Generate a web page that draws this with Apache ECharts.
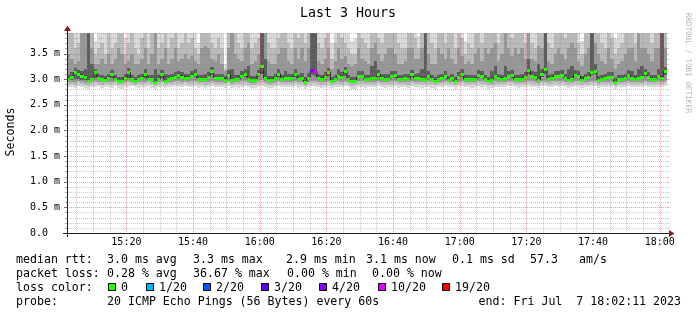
<!DOCTYPE html>
<html><head><meta charset="utf-8">
<script src="https://cdn.jsdelivr.net/npm/echarts@6/dist/echarts.min.js"></script>
<style>html,body{margin:0;padding:0;background:#fff}#c{width:697px;height:315px}</style>
</head><body><div id="c"></div>
<script>
// ---- time axis: minutes after 15:00; window 15:02:11 .. 18:02:11, 60 s steps ----
const xMin = 2 + 11/60;
const xMax = 182 + 11/60;
const xMajorTicks = [20, 40, 60, 80, 100, 120, 140, 160, 180];   // 15:20 .. 18:00
const xMinorStep = 5;
const yMax = 3.9, yMajorStep = 0.5, yMinorStep = 0.1;

// median rtt per 60 s step (ms)
const median = [
3.01,3.05,3.13,3.10,3.07,3.05,2.97,3.00,3.13,3.02,3.00,2.99,3.03,3.10,3.01,2.96,2.96,3.03,3.13,3.01,2.97,3.00,3.02,3.10,3.00,3.00,2.95,3.00,3.10,2.97,3.00,3.02,3.05,3.08,3.05,3.03,
3.03,3.07,3.11,3.00,3.00,3.00,3.05,3.16,3.03,3.02,3.02,2.99,3.09,2.99,3.00,3.00,3.07,3.11,3.00,2.99,2.99,3.10,3.26,3.02,2.99,2.99,3.03,3.11,3.00,3.03,3.02,3.03,3.11,3.00,3.03,2.95,
3.03,3.18,3.15,3.02,3.00,3.05,3.14,2.97,3.00,3.07,3.05,3.15,3.01,2.97,2.97,3.07,3.07,3.00,3.00,3.02,3.02,3.10,3.02,3.00,3.01,3.07,3.08,3.00,3.01,3.02,3.00,3.10,3.02,3.02,3.00,3.00,
3.07,3.00,2.97,3.00,3.02,3.07,2.99,3.02,2.97,3.05,3.11,3.00,3.00,3.00,3.00,3.09,3.07,3.00,2.97,2.98,3.07,3.03,3.01,3.03,3.07,3.09,3.00,3.00,3.00,3.05,3.18,3.07,3.05,2.98,3.11,3.20,
3.01,3.03,3.07,3.07,3.09,3.02,2.99,3.00,3.09,3.07,2.99,3.03,3.05,3.14,3.16,2.98,3.00,3.03,3.05,3.05,2.95,3.00,3.00,3.03,3.09,3.03,3.00,3.02,3.05,3.12,3.05,3.00,3.00,3.06,3.03,3.15
];

// smoke: upper edges of the four shaded bands (ms; 4.5 = beyond the top of the plot)
const smokeUp1 = [
4.5,4.5,4.5,4.5,4.5,4.5,4.5,4.5,3.75,4.5,4.5,4.5,4.5,4.5,4.5,4.5,4.5,3.8,4.5,4.5,4.5,4.5,4.5,4.5,4.5,4.5,4.5,4.5,4.5,4.5,4.5,4.5,4.5,4.5,4.5,4.5,
4.5,4.5,4.5,3.7,4.5,4.5,4.5,4.5,4.5,4.5,4.5,3.3,4.5,4.5,4.5,4.5,4.5,4.5,4.5,4.5,4.5,4.5,4.5,4.5,4.5,4.5,4.5,4.5,4.5,4.5,4.5,4.5,4.5,4.5,4.5,4.5,
4.5,4.5,4.5,4.5,4.5,4.5,4.5,3.7,4.5,4.5,4.5,4.5,4.5,3.75,3.8,4.5,4.5,4.5,4.5,4.5,4.5,4.5,4.5,4.5,4.5,4.5,4.5,4.5,4.5,4.5,4.5,4.5,4.5,3.85,4.5,4.5,
4.5,4.5,4.5,4.5,4.5,4.5,4.5,4.5,4.5,4.5,4.5,3.75,4.5,4.5,4.5,4.5,4.5,4.5,4.5,4.5,4.5,4.5,4.5,4.5,4.5,4.5,4.5,4.5,4.5,4.5,4.5,4.5,4.5,4.5,4.5,4.5,
4.5,4.5,4.5,4.5,4.5,4.5,4.5,4.5,4.5,4.5,3.75,4.5,4.5,4.5,4.5,4.5,4.5,4.5,4.5,4.5,3.8,4.5,4.5,4.5,4.5,4.5,4.5,4.5,4.5,4.5,4.5,4.5,4.5,4.5,4.5,4.5
];
const smokeUp2 = [
4.5,4.5,3.6,3.7,4.5,4.5,4.5,4.5,3.5,3.6,3.7,3.5,4.5,3.6,3.7,4.5,4.5,3.5,3.7,4.5,3.6,3.5,3.8,4.5,3.6,4.5,4.5,3.6,3.7,4.5,3.6,3.8,4.5,3.6,3.7,3.9,
3.7,3.8,3.6,3.5,4.5,4.5,4.5,3.7,3.6,3.8,3.6,3.2,4.5,4.5,4.5,3.7,3.6,4.5,4.5,3.6,3.7,3.8,4.5,4.5,3.7,3.6,3.6,3.8,4.5,4.5,3.7,3.6,4.5,3.8,4.5,3.7,
4.5,4.5,4.5,3.7,3.6,3.8,4.5,3.4,3.7,4.5,3.8,3.7,3.6,3.5,3.5,4.5,3.8,3.7,3.6,4.5,4.5,3.8,3.7,4.5,4.5,4.5,4.5,3.7,3.6,3.6,4.5,4.5,3.8,3.6,4.5,4.5,
4.5,3.7,3.6,4.5,4.5,3.7,4.5,4.5,3.6,4.5,3.8,3.5,3.7,3.6,4.5,4.5,3.7,4.5,4.5,4.5,4.5,3.7,4.5,4.5,4.5,3.8,4.5,4.5,4.5,3.7,4.5,3.7,3.6,4.5,4.5,4.5,
3.7,3.6,4.5,4.5,4.5,3.8,4.5,4.5,4.5,3.7,3.5,4.5,4.5,4.5,4.5,4.5,3.7,3.6,4.5,3.8,3.5,3.6,3.7,4.5,4.5,4.5,3.7,4.5,4.5,4.5,4.5,3.7,4.5,4.5,4.5,4.5
];
const smokeUp3 = [
3.5,3.4,3.3,3.35,4.5,4.5,4.5,3.6,3.3,3.3,3.4,3.3,3.5,3.3,3.4,3.6,3.5,3.3,3.35,3.5,3.3,3.3,3.4,3.6,3.3,3.5,4.5,3.3,3.4,3.6,3.3,3.4,3.6,3.35,3.4,3.5,
3.4,3.45,3.35,3.3,3.6,3.65,3.6,3.4,3.35,3.5,3.3,3.15,3.6,4.5,3.5,3.4,3.35,3.6,3.7,3.3,3.35,3.5,4.5,4.5,3.35,3.3,3.3,3.5,3.6,3.6,3.35,3.3,3.6,3.4,3.6,3.35,
3.6,4.5,4.5,3.35,3.3,3.4,3.6,3.2,3.35,3.6,3.4,3.45,3.3,3.25,3.3,3.6,3.4,3.35,3.3,3.6,3.7,3.5,3.35,3.5,3.6,3.6,3.5,3.3,3.3,3.35,3.6,3.6,3.4,3.4,3.6,4.5,
3.5,3.3,3.3,3.6,3.5,3.4,3.6,3.4,3.3,3.6,3.45,3.3,3.35,3.3,3.5,3.6,3.35,3.6,3.5,3.6,3.7,3.35,3.5,4.5,3.6,3.45,3.6,3.5,3.6,3.4,4.5,3.4,3.35,3.65,3.6,4.5,
3.35,3.3,3.5,3.6,3.5,3.4,3.6,3.7,3.6,3.35,3.25,3.5,3.6,4.5,3.7,3.5,3.35,3.3,3.6,3.4,3.2,3.3,3.35,3.5,3.6,3.6,3.35,4.5,3.6,3.6,3.5,3.35,3.6,3.6,4.5,3.6
];
const smokeUp4 = [
3.09,3.13,3.21,3.18,3.16,3.2,4.5,3.3,3.2,3.1,3.08,3.07,3.11,3.18,3.09,3.05,3.04,3.11,3.21,3.09,3.05,3.08,3.1,3.2,3.08,3.09,3.2,3.08,3.18,3.1,3.08,3.1,3.14,3.16,3.13,3.11,
3.11,3.15,3.19,3.08,3.09,3.1,3.13,3.24,3.11,3.1,3.1,3.06,3.17,3.2,3.08,3.08,3.15,3.2,3.25,3.07,3.07,3.18,4.5,3.4,3.07,3.07,3.11,3.19,3.09,3.15,3.1,3.11,3.19,3.08,3.12,3.04,
3.12,4.5,4.5,3.1,3.08,3.13,3.22,3.04,3.08,3.2,3.13,3.23,3.09,3.05,3.05,3.15,3.15,3.08,3.08,3.25,3.35,3.18,3.1,3.1,3.1,3.15,3.16,3.08,3.09,3.1,3.1,3.18,3.1,3.12,3.2,4.5,
3.15,3.08,3.05,3.08,3.1,3.15,3.07,3.1,3.05,3.13,3.19,3.08,3.08,3.08,3.08,3.17,3.15,3.08,3.05,3.15,3.25,3.11,3.09,3.25,3.15,3.17,3.08,3.08,3.1,3.13,3.4,3.15,3.13,3.3,3.19,4.5,
3.09,3.11,3.15,3.15,3.17,3.1,3.2,3.25,3.17,3.15,3.07,3.11,3.13,4.5,3.3,3.06,3.08,3.11,3.13,3.13,3.03,3.08,3.08,3.11,3.17,3.15,3.08,3.2,3.25,3.2,3.13,3.08,3.08,3.2,4.5,3.23
];
// smoke: lower edges of the four bands (ms)
const smokeLo1 = [
2.84,2.85,2.83,2.86,2.84,2.82,2.80,2.84,2.85,2.86,2.83,2.84,2.85,2.83,2.86,2.82,2.81,2.84,2.85,2.86,2.84,2.83,2.85,2.84,2.86,2.83,2.80,2.84,2.85,2.82,2.84,2.85,2.86,2.84,2.85,2.86,
2.84,2.85,2.86,2.83,2.84,2.82,2.85,2.86,2.84,2.85,2.84,2.83,2.86,2.82,2.84,2.83,2.85,2.86,2.84,2.82,2.83,2.85,2.86,2.84,2.82,2.83,2.85,2.86,2.84,2.85,2.84,2.85,2.86,2.83,2.85,2.80,
2.84,2.86,2.85,2.84,2.83,2.85,2.86,2.82,2.84,2.85,2.84,2.86,2.84,2.80,2.81,2.85,2.84,2.83,2.84,2.84,2.85,2.86,2.84,2.83,2.84,2.85,2.86,2.83,2.84,2.84,2.83,2.86,2.84,2.85,2.83,2.84,
2.84,2.83,2.81,2.84,2.85,2.86,2.84,2.85,2.81,2.85,2.86,2.84,2.84,2.83,2.84,2.86,2.85,2.84,2.81,2.82,2.85,2.84,2.84,2.85,2.86,2.86,2.84,2.83,2.84,2.85,2.86,2.85,2.84,2.82,2.86,2.86,
2.84,2.85,2.86,2.85,2.86,2.84,2.83,2.84,2.86,2.85,2.83,2.84,2.85,2.86,2.86,2.82,2.84,2.84,2.85,2.85,2.80,2.84,2.84,2.85,2.86,2.84,2.84,2.84,2.85,2.86,2.85,2.84,2.84,2.85,2.85,2.86
];
const smokeLo2 = [
2.90,2.91,2.89,2.92,2.90,2.88,2.87,2.90,2.92,2.91,2.89,2.90,2.91,2.90,2.92,2.88,2.88,2.90,2.92,2.91,2.89,2.90,2.91,2.90,2.92,2.90,2.87,2.90,2.92,2.89,2.90,2.91,2.92,2.91,2.91,2.92,
2.90,2.91,2.92,2.90,2.90,2.89,2.91,2.93,2.90,2.91,2.90,2.90,2.92,2.89,2.90,2.90,2.91,2.92,2.90,2.89,2.89,2.91,2.93,2.90,2.89,2.89,2.91,2.92,2.90,2.91,2.90,2.91,2.92,2.90,2.91,2.87,
2.90,2.92,2.92,2.90,2.89,2.91,2.92,2.88,2.90,2.91,2.90,2.92,2.90,2.87,2.88,2.91,2.91,2.90,2.90,2.90,2.91,2.92,2.90,2.90,2.90,2.91,2.92,2.90,2.90,2.90,2.89,2.92,2.90,2.91,2.90,2.90,
2.91,2.90,2.88,2.90,2.91,2.92,2.90,2.91,2.88,2.91,2.92,2.90,2.90,2.90,2.90,2.92,2.91,2.90,2.88,2.89,2.91,2.90,2.90,2.91,2.92,2.92,2.90,2.90,2.90,2.91,2.93,2.91,2.91,2.89,2.92,2.93,
2.90,2.91,2.92,2.91,2.92,2.90,2.89,2.90,2.92,2.91,2.89,2.90,2.91,2.93,2.93,2.89,2.90,2.90,2.91,2.91,2.87,2.90,2.90,2.91,2.92,2.90,2.90,2.90,2.91,2.92,2.91,2.90,2.90,2.91,2.91,2.93
];
const smokeLo3 = [
2.94,2.95,2.94,2.96,2.94,2.93,2.92,2.94,2.96,2.95,2.94,2.94,2.95,2.95,2.96,2.92,2.92,2.94,2.96,2.95,2.93,2.94,2.95,2.95,2.96,2.94,2.92,2.94,2.96,2.93,2.94,2.95,2.96,2.96,2.95,2.96,
2.95,2.96,2.96,2.94,2.94,2.94,2.95,2.97,2.95,2.95,2.95,2.93,2.96,2.93,2.94,2.94,2.96,2.97,2.94,2.93,2.93,2.96,2.98,2.95,2.93,2.93,2.95,2.97,2.94,2.95,2.95,2.95,2.97,2.94,2.95,2.91,
2.95,2.97,2.97,2.94,2.94,2.95,2.97,2.92,2.94,2.96,2.95,2.97,2.94,2.92,2.92,2.96,2.96,2.94,2.94,2.95,2.95,2.96,2.95,2.94,2.94,2.96,2.96,2.94,2.94,2.95,2.94,2.96,2.95,2.95,2.94,2.94,
2.96,2.94,2.92,2.94,2.95,2.96,2.94,2.95,2.92,2.95,2.96,2.94,2.94,2.94,2.94,2.96,2.96,2.94,2.92,2.93,2.96,2.95,2.94,2.95,2.96,2.96,2.94,2.94,2.94,2.95,2.97,2.96,2.95,2.93,2.96,2.97,
2.95,2.96,2.96,2.96,2.97,2.95,2.94,2.94,2.96,2.96,2.94,2.95,2.95,2.97,2.97,2.93,2.94,2.95,2.95,2.95,2.92,2.94,2.94,2.95,2.96,2.95,2.94,2.95,2.95,2.97,2.95,2.94,2.94,2.96,2.95,2.97
];
const smokeLo4 = [
2.97,2.99,3.00,3.01,2.99,2.98,2.94,2.97,3.02,2.98,2.97,2.96,2.99,3.02,2.98,2.94,2.94,2.99,3.03,2.98,2.95,2.97,2.99,3.02,2.97,2.97,2.93,2.97,3.02,2.95,2.97,2.99,3.01,3.02,3.01,3.00,
2.99,3.02,3.05,2.96,2.97,2.96,3.00,3.09,2.99,2.98,2.98,2.96,3.04,2.96,2.97,2.96,3.02,3.05,2.96,2.96,2.96,3.04,3.10,2.98,2.96,2.96,2.99,3.05,2.97,2.99,2.98,2.99,3.05,2.97,2.99,2.93,
2.99,3.08,3.06,2.98,2.97,3.00,3.06,2.94,2.97,3.02,3.00,3.07,2.97,2.94,2.94,3.02,3.02,2.97,2.97,2.98,2.98,3.04,2.98,2.97,2.97,3.02,3.03,2.97,2.97,2.98,2.97,3.04,2.98,2.98,2.97,2.97,
3.02,2.97,2.94,2.97,2.98,3.02,2.96,2.98,2.94,3.00,3.05,2.97,2.97,2.97,2.97,3.03,3.02,2.97,2.94,2.95,3.02,2.99,2.98,2.99,3.02,3.03,2.97,2.97,2.97,3.00,3.10,3.02,3.00,2.95,3.05,3.10,
2.98,3.00,3.03,3.03,3.05,2.99,2.96,2.97,3.05,3.03,2.96,3.00,3.01,3.08,3.10,2.95,2.97,3.00,3.01,3.01,2.93,2.97,2.97,3.00,3.05,3.00,2.97,2.99,3.01,3.07,3.01,2.97,2.97,3.02,3.00,3.08
];

// steps whose median carries a loss colour other than "0"
const lossSteps = [73, 74];
const lossLevels = [3, 5];

const lossLabels = ['0', '1/20', '2/20', '3/20', '4/20', '10/20', '19/20'];
const lossColors = ['#26ff00', '#00b8ff', '#0059ff', '#5e00ff', '#7e00ff', '#dd00ff', '#ff0000'];

const FONT = '"DejaVu Sans Mono", "Liberation Mono", monospace';
const bandColors = ['#d9d9d9', '#bababa', '#979797', '#5c5c5c'];
const MINOR = 'rgba(135,135,135,0.45)', MAJOR = 'rgba(222,70,70,0.55)';

const n = median.length;
const smokeData = median.map((m, i) => [xMin + i, xMin + i + 1,
  smokeLo1[i], smokeUp1[i], smokeLo2[i], smokeUp2[i], smokeLo3[i], smokeUp3[i], smokeLo4[i], smokeUp4[i]]);
const lossOf = median.map(() => 0);
lossSteps.forEach((s, k) => { lossOf[s] = lossLevels[k]; });
const medData = median.map((m, i) => [xMin + i, xMin + i + 1, m, lossOf[i]]);
const medLine = median.map((m, i) => [xMin + i, m]).concat([[xMin + n, median[n - 1]]]);

function clipTo(r, cs) {
  return echarts.graphic.clipRectByRect(r, {x: cs.x, y: cs.y, width: cs.width, height: cs.height});
}
function smokeItem(params, api) {
  const cs = params.coordSys;
  const x0 = api.value(0), x1 = api.value(1);
  const kids = [];
  for (let k = 0; k < 4; k++) {
    const lo = api.value(2 + 2 * k), hi = api.value(3 + 2 * k);
    const a = api.coord([x0, hi]), b = api.coord([x1, lo]);
    const xa = Math.round(a[0]), xb = Math.round(b[0]);
    const ya = Math.round(a[1]), yb = Math.round(b[1]);
    const r = clipTo({x: xa, y: ya, width: xb - xa, height: yb - ya}, cs);
    if (r && r.width > 0 && r.height > 0) kids.push({type: 'rect', shape: r, style: {fill: bandColors[k]}});
  }
  return {type: 'group', children: kids};
}
function medItem(params, api) {
  const cs = params.coordSys;
  const a = api.coord([api.value(0), api.value(2)]);
  const b = api.coord([api.value(1), api.value(2)]);
  const xa = Math.round(a[0]), xb = Math.round(b[0]);
  const yc = Math.round(a[1]);
  const r = clipTo({x: xa, y: yc - 1, width: xb - xa, height: 3}, cs);
  if (!r) return null;
  return {type: 'rect', shape: r, style: {fill: lossColors[api.value(3)]}};
}
function fmtTime(v) {
  const tot = Math.round(v) + 15 * 60;
  const h = Math.floor(tot / 60), m = tot % 60;
  return h + ':' + (m < 10 ? '0' : '') + m;
}

const T = (text, x, y, extra) => ({
  type: 'text', x: x, y: y, z: 100,
  style: Object.assign({text: text, fill: '#000', font: '11.6px ' + FONT, textAlign: 'left', textVerticalAlign: 'middle', align: 'left', verticalAlign: 'middle'}, extra || {})
});

const chart = echarts.init(document.getElementById('c'), null, {renderer: 'canvas'});
chart.setOption({
  animation: false,
  backgroundColor: '#ffffff',
  textStyle: {fontFamily: FONT},
  grid: {left: 67, top: 33, width: 600, height: 200},
  xAxis: {type: 'value', min: xMin, max: xMax, splitNumber: 9, minInterval: 20, maxInterval: 20,
    axisLine: {show: false}, axisTick: {show: false}, splitLine: {show: false},
    axisLabel: {formatter: fmtTime, fontSize: 10, fontFamily: FONT, color: '#000', margin: 4, showMinLabel: false, showMaxLabel: false}},
  yAxis: {type: 'value', min: 0, max: yMax, interval: yMajorStep,
    axisLine: {show: false}, axisTick: {show: false}, splitLine: {show: false},
    axisLabel: {formatter: v => v === 0 ? '0.0' : v.toFixed(1) + ' m', fontSize: 10, fontFamily: FONT, color: '#000', align: 'left', margin: 37, showMaxLabel: false}},
  series: [
    {type: 'custom', name: 'smoke', z: 1, silent: true,
      encode: {x: [0, 1], y: [2, 3, 4, 5, 6, 7, 8, 9]}, renderItem: smokeItem, data: smokeData},
    {type: 'line', name: 'median', z: 2, silent: true, step: 'end', symbol: 'none',
      lineStyle: {color: '#202020', width: 1}, data: medLine},
    {type: 'custom', name: 'median loss', z: 3, silent: true,
      encode: {x: [0, 1], y: 2}, renderItem: medItem, data: medData}
  ]
});

// ---- grid (drawn on top of the graph, as rrdtool does), positions from the axes' own scales ----
const px = v => chart.convertToPixel({xAxisIndex: 0}, v);
const py = v => chart.convertToPixel({yAxisIndex: 0}, v);
const gTop = Math.round(py(yMax)), gBot = Math.round(py(0));
const gLeft = Math.round(px(xMin)), gRight = Math.round(px(xMax));
const gfx = [];
for (let m = xMinorStep; m <= xMax; m += xMinorStep) {
  const isMaj = xMajorTicks.indexOf(m) >= 0;
  const x = Math.round(px(m)) + 0.5;
  gfx.push({type: 'line', z: 50, silent: true, shape: {x1: x, y1: gTop, x2: x, y2: gBot},
    style: {stroke: isMaj ? MAJOR : MINOR, lineWidth: 1, lineDash: [1, 1]}});
}
for (let k = 1; k * yMinorStep <= yMax + 1e-9; k++) {
  const v = Math.round(k * yMinorStep * 10) / 10;
  const isMaj = k % Math.round(yMajorStep / yMinorStep) === 0;
  const y = Math.round(py(v)) + 0.5;
  gfx.push({type: 'line', z: 50, silent: true, shape: {x1: gLeft, y1: y, x2: gRight, y2: y},
    style: {stroke: isMaj ? MAJOR : MINOR, lineWidth: 1, lineDash: [1, 1]}});
  gfx.push({type: 'line', z: 50, silent: true, shape: {x1: gLeft - (isMaj ? 3 : 2), y1: y, x2: gLeft, y2: y},
    style: {stroke: isMaj ? '#9a6060' : '#a8a8a8', lineWidth: 1}});
  gfx.push({type: 'line', z: 50, silent: true, shape: {x1: gRight, y1: y, x2: gRight + 2, y2: y},
    style: {stroke: isMaj ? MAJOR : MINOR, lineWidth: 1}});
}
// texts
gfx.push(T('Last 3 Hours', 348, 14, {font: '13.3px ' + FONT, textAlign: 'center', align: 'center'}));
gfx.push(Object.assign(T('Seconds', 11, 132, {textAlign: 'center', align: 'center'}), {rotation: Math.PI / 2}));
gfx.push(Object.assign(T('RRDTOOL / TOBI OETIKER', 687.5, 63, {font: '7.6px ' + FONT, fill: '#b4b4b4', textAlign: 'center', align: 'center'}), {rotation: -Math.PI / 2}));
// axes + arrows
gfx.push({type: 'line', z: 100, shape: {x1: gLeft - 4, y1: gBot + 0.5, x2: gRight + 4, y2: gBot + 0.5}, style: {stroke: '#1f1f1f', lineWidth: 1}});
gfx.push({type: 'line', z: 100, shape: {x1: gLeft + 0.5, y1: gBot + 4, x2: gLeft + 0.5, y2: gTop - 4}, style: {stroke: '#1f1f1f', lineWidth: 1}});
gfx.push({type: 'polygon', z: 101, shape: {points: [[gRight + 2, gBot - 3], [gRight + 2, gBot + 4], [gRight + 7.5, gBot + 0.5]]}, style: {fill: '#801f1f'}});
gfx.push({type: 'polygon', z: 101, shape: {points: [[gLeft - 3, gTop - 2], [gLeft + 4, gTop - 2], [gLeft + 0.5, gTop - 7.5]]}, style: {fill: '#801f1f'}});
// legend rows
const r1 = 259.5, r2 = 273.5, r3 = 287.5, r4 = 301.5;
gfx.push(T('median rtt:', 16, r1));
gfx.push(T('3.0 ms avg', 107, r1));
gfx.push(T('3.3 ms max', 193, r1));
gfx.push(T('2.9 ms min', 286, r1));
gfx.push(T('3.1 ms now', 366, r1));
gfx.push(T('0.1 ms sd', 452, r1));
gfx.push(T('57.3', 530, r1));
gfx.push(T('am/s', 579, r1));
gfx.push(T('packet loss:', 16, r2));
gfx.push(T('0.28 % avg', 107, r2));
gfx.push(T('36.67 % max', 193, r2));
gfx.push(T('0.00 % min', 287, r2));
gfx.push(T('0.00 % now', 372, r2));
gfx.push(T('loss color:', 16, r3));
const boxX = [108, 146, 203, 261, 319, 378, 442];
lossLabels.forEach((lab, k) => {
  gfx.push({type: 'rect', z: 100, shape: {x: boxX[k] + 0.5, y: 283.5, width: 7, height: 7}, style: {fill: lossColors[k], stroke: '#000', lineWidth: 1}});
  gfx.push(T(lab, boxX[k] + 13, r3));
});
gfx.push(T('probe:', 16, r4));
gfx.push(T('20 ICMP Echo Pings (56 Bytes) every 60s', 107, r4));
gfx.push(T('end: Fri Jul  7 18:02:11 2023', 681, r4, {textAlign: 'right', align: 'right'}));

chart.setOption({graphic: {elements: gfx}});
</script>
</body></html>
